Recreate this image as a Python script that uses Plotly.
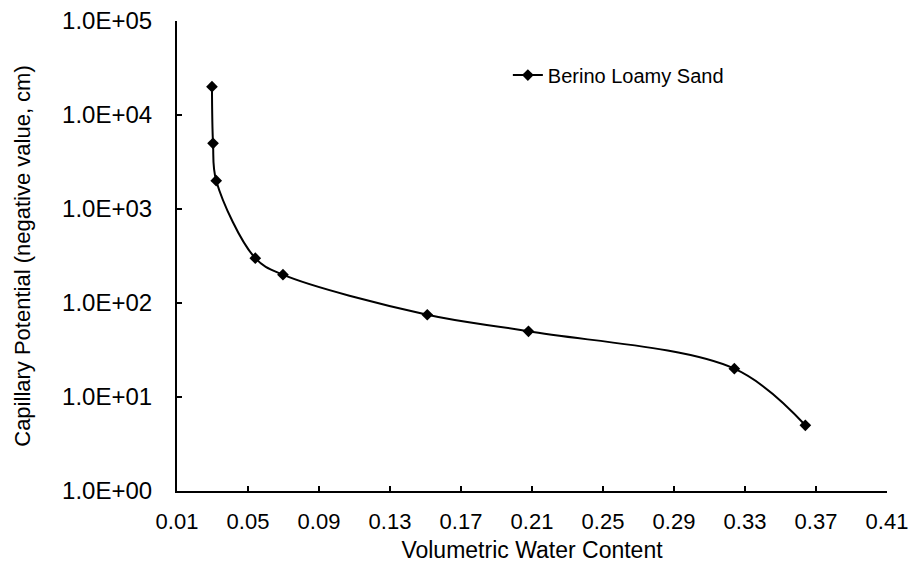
import plotly.graph_objects as go

water_content = [0.0297, 0.0303, 0.0321, 0.0541, 0.0697, 0.151, 0.208, 0.324, 0.364]
capillary_potential = [20000, 5000, 2000, 300, 200, 75, 50, 20, 5]
series_name = "Berino Loamy Sand"

y_tickvals = [1, 10, 100, 1000, 10000, 100000]
y_ticktext = ["1.0E+00", "1.0E+01", "1.0E+02", "1.0E+03", "1.0E+04", "1.0E+05"]
x_tickvals = [0.01, 0.05, 0.09, 0.13, 0.17, 0.21, 0.25, 0.29, 0.33, 0.37, 0.41]

FONT = "Liberation Sans, Arial, sans-serif"

fig = go.Figure()
fig.add_trace(go.Scatter(
    x=water_content, y=capillary_potential, name=series_name,
    mode="lines+markers",
    line=dict(color="black", width=2, shape="spline", smoothing=1),
    marker=dict(symbol="diamond", size=9, color="black"),
    showlegend=True,
))

fig.update_layout(
    width=915, height=574,
    margin=dict(l=177, r=28, t=21, b=83, autoexpand=False),
    paper_bgcolor="white", plot_bgcolor="white",
    font=dict(family=FONT, color="black"),
    showlegend=True,
    legend=dict(x=0.466, xanchor="left", y=0.885, yanchor="middle",
                font=dict(size=20, family=FONT), bgcolor="rgba(0,0,0,0)"),
    xaxis=dict(
        range=[0.01, 0.41], tickvals=x_tickvals, tickformat=".2f",
        showgrid=False, zeroline=False, automargin=False,
        showline=True, linecolor="black", linewidth=2,
        ticks="inside", ticklen=5, tickwidth=2, tickcolor="black",
        tickfont=dict(size=22), ticklabelstandoff=10,
        title=dict(text="Volumetric Water Content", font=dict(size=23), standoff=8),
    ),
    yaxis=dict(
        type="log", range=[0, 5], tickvals=y_tickvals, ticktext=y_ticktext,
        showgrid=False, zeroline=False, automargin=False,
        showline=True, linecolor="black", linewidth=2,
        ticks="inside", ticklen=5, tickwidth=2, tickcolor="black",
        tickfont=dict(size=24), ticklabelstandoff=18,
        title=dict(text="Capillary Potential (negative value, cm)", font=dict(size=22), standoff=25),
    ),
)

fig.write_html("out.html", config={"displayModeBar": False},
               post_script="document.body.style.margin='0';")
